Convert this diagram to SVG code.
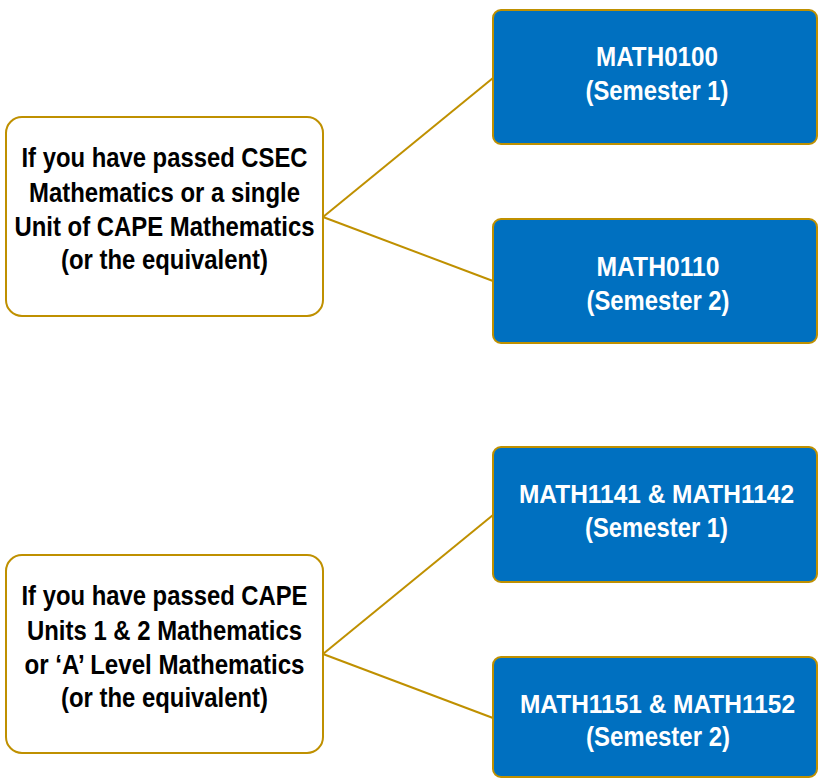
<svg xmlns="http://www.w3.org/2000/svg" width="818" height="778" viewBox="0 0 818 778">
<style>
.cond{fill:#fff;stroke:#BF9000;stroke-width:2}
.course{fill:#0070C0;stroke:#BF9000;stroke-width:2}
.conn{stroke:#BF9000;stroke-width:2;fill:none}
text{font-family:"Liberation Sans",Arial,sans-serif;font-weight:bold;font-size:28px;text-anchor:middle}
.dark{fill:#000}
.light{fill:#fff}
.small{font-size:25px}
</style>
<rect width="818" height="778" fill="#fff"/>
<g id="connectors">
<line class="conn" x1="323" y1="217" x2="493" y2="78"/>
<line class="conn" x1="323" y1="217" x2="493" y2="281"/>
<line class="conn" x1="323" y1="654" x2="493" y2="515"/>
<line class="conn" x1="323" y1="654" x2="493" y2="718"/>
</g>
<g id="cond1">
<rect class="cond" x="6" y="117" width="317" height="199" rx="16"/>
<text class="dark" x="164.5" y="167" textLength="286" lengthAdjust="spacingAndGlyphs">If you have passed CSEC</text>
<text class="dark" x="164.5" y="201.5" textLength="271" lengthAdjust="spacingAndGlyphs">Mathematics or a single</text>
<text class="dark" x="164.5" y="236" textLength="300" lengthAdjust="spacingAndGlyphs">Unit of CAPE Mathematics</text>
<text class="dark" x="164.5" y="269" textLength="207" lengthAdjust="spacingAndGlyphs">(or the equivalent)</text>
</g>
<g id="cond2">
<rect class="cond" x="6" y="555" width="317" height="198" rx="16"/>
<text class="dark" x="164.5" y="605" textLength="286" lengthAdjust="spacingAndGlyphs">If you have passed CAPE</text>
<text class="dark" x="164.5" y="640" textLength="275" lengthAdjust="spacingAndGlyphs">Units 1 &amp; 2 Mathematics</text>
<text class="dark" x="164.5" y="673.5" textLength="280" lengthAdjust="spacingAndGlyphs">or ‘A’ Level Mathematics</text>
<text class="dark" x="164.5" y="707" textLength="207" lengthAdjust="spacingAndGlyphs">(or the equivalent)</text>
</g>
<g id="math0100">
<rect class="course" x="493" y="10" width="324" height="134" rx="8"/>
<text class="light" x="657" y="66" textLength="122" lengthAdjust="spacingAndGlyphs">MATH0100</text>
<text class="light" x="657" y="100" textLength="143" lengthAdjust="spacingAndGlyphs">(Semester 1)</text>
</g>
<g id="math0110">
<rect class="course" x="493" y="219" width="324" height="124" rx="8"/>
<text class="light" x="658" y="276" textLength="123" lengthAdjust="spacingAndGlyphs">MATH0110</text>
<text class="light" x="658" y="310" textLength="143" lengthAdjust="spacingAndGlyphs">(Semester 2)</text>
</g>
<g id="math1141">
<rect class="course" x="493" y="447" width="324" height="135" rx="8"/>
<text class="light small" x="656.5" y="503" textLength="275" lengthAdjust="spacingAndGlyphs">MATH1141 &amp; MATH1142</text>
<text class="light" x="656.5" y="537" textLength="143" lengthAdjust="spacingAndGlyphs">(Semester 1)</text>
</g>
<g id="math1151">
<rect class="course" x="493" y="657" width="324" height="120" rx="8"/>
<text class="light small" x="657.5" y="713" textLength="275" lengthAdjust="spacingAndGlyphs">MATH1151 &amp; MATH1152</text>
<text class="light" x="658" y="746" textLength="144" lengthAdjust="spacingAndGlyphs">(Semester 2)</text>
</g>
</svg>
